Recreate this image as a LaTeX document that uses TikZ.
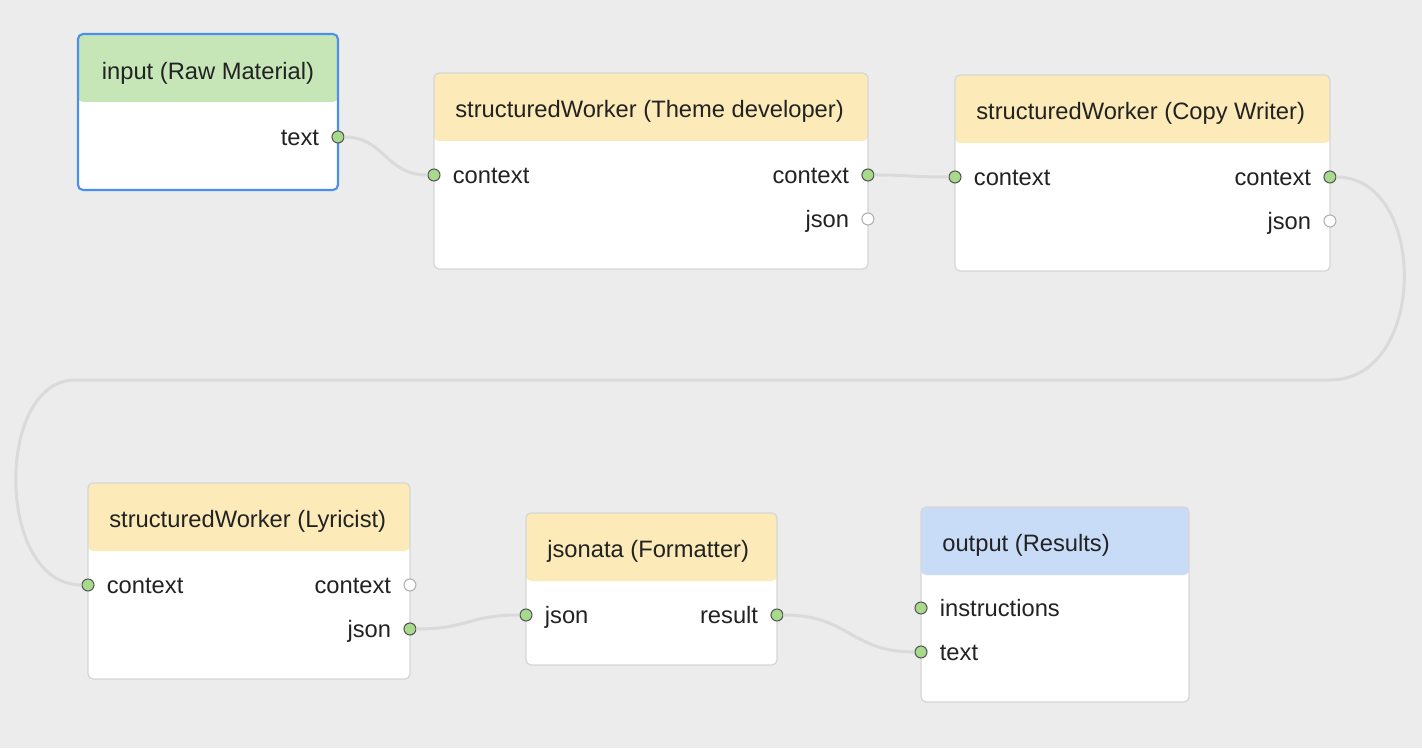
\documentclass[tikz,border=0pt]{standalone}
\usepackage{fontspec}
\setmainfont{Liberation Sans}
\usetikzlibrary{positioning}
\definecolor{canvas}{HTML}{ECECEC}
\definecolor{cardline}{HTML}{D6D6D6}
\definecolor{selline}{HTML}{4A8FE8}
\definecolor{hdyellow}{HTML}{FCEBB8}
\definecolor{hdgreen}{HTML}{C6E6B8}
\definecolor{hdblue}{HTML}{C8DCF8}
\definecolor{portfill}{HTML}{A8DA8C}
\definecolor{portline}{HTML}{555555}
\definecolor{idleline}{HTML}{B0B0B0}
\definecolor{wirecol}{HTML}{DADADA}
\definecolor{ink}{HTML}{222222}
\newcommand{\cardfont}{\fontsize{13.5}{16}\selectfont}

\begin{document}
\begin{tikzpicture}[
    x=0.02cm, y=-0.02cm,
    label distance=0.24cm,
    card/.style={rectangle, rounded corners=0.1cm, draw=cardline, line width=0.7pt, fill=white, anchor=north west, inner sep=0pt, outer sep=0pt, minimum height=3.92cm},
    head/.style={path picture={\fill[#1] (path picture bounding box.north west) rectangle ([yshift=-1.36cm]path picture bounding box.north east);}},
    ttl/.style={font=\cardfont, text=ink, inner sep=0pt, anchor=west},
    port/.style={circle, draw=portline, fill=portfill, line width=0.6pt, minimum size=0.24cm, inner sep=0pt},
    idle/.style={port, draw=idleline, fill=white},
    plbl/.style={font=\cardfont, text=ink, inner sep=0pt, text height=1ex, text depth=0pt, yshift=-0.08cm},
    wire/.style={draw=wirecol, line width=0.06cm}
]
    \path[use as bounding box, fill=canvas] (0,0) rectangle (1422,748);

    % cards
    \node[card, head=hdgreen, draw=selline, line width=1.2pt, minimum width=5.2cm, minimum height=3.12cm] (input) at (78,34) {};
    \node[card, head=hdyellow, minimum width=8.68cm] (theme) at (434,73) {};
    \node[card, head=hdyellow, minimum width=7.5cm] (copy) at (955,75) {};
    \node[card, head=hdyellow, minimum width=6.44cm] (lyric) at (88,483) {};
    \node[card, head=hdyellow, minimum width=5.02cm, minimum height=3.04cm] (jsonata) at (526,513) {};
    \node[card, head=hdblue, minimum width=5.36cm, minimum height=3.9cm] (output) at (921,507) {};

    \node[ttl, anchor=center] at ([yshift=-0.78cm]input.north) {input (Raw Material)};
    \node[ttl] at ([xshift=0.42cm, yshift=-0.76cm]theme.north west) {structuredWorker (Theme developer)};
    \node[ttl] at ([xshift=0.42cm, yshift=-0.76cm]copy.north west) {structuredWorker (Copy Writer)};
    \node[ttl] at ([xshift=0.42cm, yshift=-0.76cm]lyric.north west) {structuredWorker (Lyricist)};
    \node[ttl] at ([xshift=0.42cm, yshift=-0.76cm]jsonata.north west) {jsonata (Formatter)};
    \node[ttl] at ([xshift=0.42cm, yshift=-0.76cm]output.north west) {output (Results)};

    % ports
    \node[port, label={[plbl]left:text}] (inputText) at ([yshift=-2.06cm]input.north east) {};
    \node[port, label={[plbl]right:context}] (themeIn) at ([yshift=-2.04cm]theme.north west) {};
    \node[port, label={[plbl]left:context}] (themeOut) at ([yshift=-2.04cm]theme.north east) {};
    \node[idle, label={[plbl]left:json}] (themeJson) at ([yshift=-2.92cm]theme.north east) {};
    \node[port, label={[plbl]right:context}] (copyIn) at ([yshift=-2.04cm]copy.north west) {};
    \node[port, label={[plbl]left:context}] (copyOut) at ([yshift=-2.04cm]copy.north east) {};
    \node[idle, label={[plbl]left:json}] (copyJson) at ([yshift=-2.92cm]copy.north east) {};
    \node[port, label={[plbl]right:context}] (lyricIn) at ([yshift=-2.04cm]lyric.north west) {};
    \node[idle, label={[plbl]left:context}] (lyricOut) at ([yshift=-2.04cm]lyric.north east) {};
    \node[port, label={[plbl]left:json}] (lyricJson) at ([yshift=-2.92cm]lyric.north east) {};
    \node[port, label={[plbl]right:json}] (jsonataIn) at ([yshift=-2.04cm]jsonata.north west) {};
    \node[port, label={[plbl]left:result}] (jsonataOut) at ([yshift=-2.04cm]jsonata.north east) {};
    \node[port, label={[plbl]right:instructions}] (outputInstr) at ([yshift=-2.02cm]output.north west) {};
    \node[port, label={[plbl]right:text}] (outputText) at ([yshift=-2.9cm]output.north west) {};

    % wires
    \draw[wire] (inputText.east) .. controls (385,137) and (385,175) .. (themeIn.west);
    \draw[wire] (themeOut.east) .. controls (910,175) and (910,177) .. (copyIn.west);
    \draw[wire] (copyOut.east) .. controls (1428,177) and (1428,380) .. (1330,380) -- (75,380)
        .. controls (-5,380) and (-5,585) .. (lyricIn.west);
    \draw[wire] (lyricJson.east) .. controls (468,629) and (468,615) .. (jsonataIn.west);
    \draw[wire] (jsonataOut.east) .. controls (850,615) and (850,652) .. (outputText.west);
\end{tikzpicture}
\end{document}
